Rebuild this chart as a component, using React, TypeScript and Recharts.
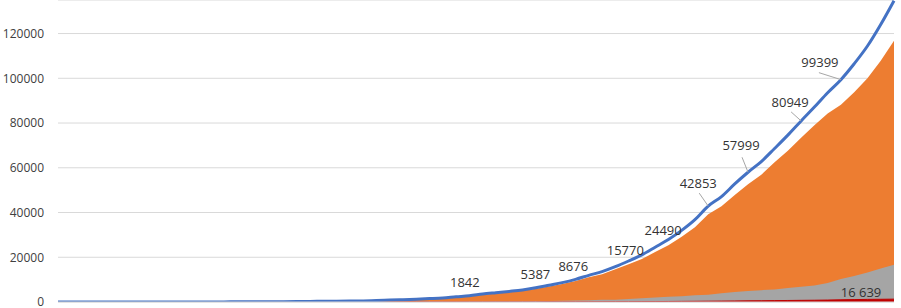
import {
  Area,
  CartesianGrid,
  ComposedChart,
  LabelList,
  Line,
  XAxis,
  YAxis,
} from "recharts";

const dates = [
  "01.03", "02.03", "03.03", "04.03", "05.03", "06.03", "07.03", "08.03", "09.03", "10.03",
  "11.03", "12.03", "13.03", "14.03", "15.03", "16.03", "17.03", "18.03", "19.03", "20.03",
  "21.03", "22.03", "23.03", "24.03", "25.03", "26.03", "27.03", "28.03", "29.03", "30.03",
  "31.03", "01.04", "02.04", "03.04", "04.04", "05.04", "06.04", "07.04", "08.04", "09.04",
  "10.04", "11.04", "12.04", "13.04", "14.04", "15.04", "16.04", "17.04", "18.04", "19.04",
  "20.04", "21.04", "22.04", "23.04", "24.04", "25.04", "26.04", "27.04", "28.04", "29.04",
  "30.04", "01.05", "02.05", "03.05",
];

const total = [
  2, 3, 3, 3, 4, 10, 14, 17, 17, 20,
  28, 34, 45, 59, 63, 93, 114, 147, 199, 253,
  306, 367, 438, 495, 658, 840, 1036, 1264, 1534, 1842,
  2337, 2777, 3548, 4149, 4731, 5387, 6343, 7497, 8676, 10131,
  11917, 13584, 15770, 18328, 21102, 24490, 27938, 32008, 36793, 42853,
  47121, 52763, 57999, 62773, 68622, 74588, 80949, 87147, 93558, 99399,
  106498, 114431, 124054, 134687,
];

const active = [
  0, 1, 1, 1, 2, 8, 12, 15, 15, 18,
  26, 32, 43, 57, 61, 88, 109, 139, 189, 238,
  289, 350, 420, 472, 626, 799, 983, 1211, 1462, 1767,
  2199, 2563, 3283, 3834, 4355, 4987, 5890, 6945, 8033, 9357,
  11028, 12433, 14595, 16825, 19238, 22306, 25402, 29145, 33423, 39201,
  42843, 47887, 52595, 56910, 62439, 67657, 73435, 79007, 84235, 88141,
  93806, 100042, 107819, 116768,
];

const recovered = [
  2, 2, 2, 2, 2, 2, 2, 2, 2, 2,
  2, 2, 2, 2, 2, 5, 5, 8, 9, 14,
  16, 16, 17, 22, 29, 38, 49, 49, 64, 66,
  121, 190, 235, 281, 333, 355, 406, 494, 580, 698,
  795, 1045, 1045, 1355, 1694, 1986, 2304, 2590, 3057, 3291,
  3873, 4420, 4891, 5308, 5568, 6250, 6767, 7346, 8456, 10286,
  11619, 13220, 15013, 16639,
];

const deaths = [
  0, 0, 0, 0, 0, 0, 0, 0, 0, 0,
  0, 0, 0, 0, 0, 0, 0, 0, 1, 1,
  1, 1, 1, 1, 3, 3, 4, 4, 8, 9,
  17, 24, 30, 34, 43, 45, 47, 58, 63, 76,
  94, 106, 130, 148, 170, 198, 232, 273, 313, 361,
  405, 456, 513, 555, 615, 681, 747, 794, 867, 972,
  1073, 1169, 1222, 1280,
];

const yTicks = [0, 20000, 40000, 60000, 80000, 100000, 120000];

// half-day tick marks along the date axis
const xTicks = Array.from({ length: dates.length * 2 - 1 }, (_, i) => i / 2);

// which totals get a data label, and where the label sits relative to its point
const totalLabels: Record<string, { dx: number; dy: number; leader?: [number, number] }> = {
  "30.03": { dx: 22, dy: -16 },
  "05.04": { dx: 13, dy: -16 },
  "08.04": { dx: 11, dy: -17 },
  "12.04": { dx: 10, dy: -17 },
  "15.04": { dx: 8, dy: -17 },
  "19.04": { dx: -10, dy: -23, leader: [-9, -13] },
  "22.04": { dx: -7, dy: -27, leader: [-6, -15] },
  "26.04": { dx: -11, dy: -19, leader: [-10, -9] },
  "29.04": { dx: -21, dy: -18, leader: [-22, -7] },
};

const recoveredLabels: Record<string, { dx: number; dy: number }> = {
  "03.05": { dx: -33, dy: 27 },
};

const data = dates.map((d, i) => ({
  day: i,
  date: d,
  total: total[i],
  active: active[i],
  recovered: recovered[i],
  deaths: deaths[i],
}));

const FONT = "'Open Sans', sans-serif";

const spaced = (v: number) => String(v).replace(/\B(?=(\d{3})+(?!\d))/g, " ");

function makeLabel(
  spots: Record<string, { dx: number; dy: number; leader?: [number, number] }>,
  format: (v: number) => string
) {
  return (props: any) => {
    const { index, value } = props;
    const spot = spots[dates[index]];
    if (!spot) return null;
    const vb = props.viewBox || {};
    const px = props.x ?? vb.x;
    const py = props.y ?? vb.y;
    return (
      <g>
        {spot.leader && (
          <line
            x1={px + spot.leader[0]}
            y1={py + spot.leader[1]}
            x2={px}
            y2={py}
            stroke="#a6a6a6"
            strokeWidth={1}
          />
        )}
        <text
          x={px + spot.dx}
          y={py + spot.dy}
          textAnchor="middle"
          dominantBaseline="central"
          fontFamily={FONT}
          fontSize={13}
          fill="#333"
        >
          {format(value)}
        </text>
      </g>
    );
  };
}

export default function App() {
  return (
    <div
      style={{
        position: "absolute",
        left: 0,
        top: 0,
        width: 901,
        height: 308,
        overflow: "hidden",
        background: "#fff",
      }}
    >
      <ComposedChart
        width={901}
        height={308}
        data={data}
        margin={{ top: 0, right: 7, left: 0, bottom: 0 }}
      >
        <CartesianGrid horizontal vertical={false} stroke="#d9d9d9" />
        <XAxis
          dataKey="day"
          type="number"
          domain={[0, dates.length - 1]}
          ticks={xTicks}
          interval={0}
          tick={false}
          tickLine={{ stroke: "#d9d9d9" }}
          tickSize={4}
          axisLine={{ stroke: "#d9d9d9" }}
          height={6}
        />
        <YAxis
          domain={[0, 135000]}
          allowDataOverflow
          ticks={yTicks}
          interval={0}
          width={58}
          axisLine={false}
          tickLine={false}
          tickSize={0}
          tickMargin={14}
          tick={{ fontSize: 12, fill: "#404040", fontFamily: FONT }}
        />
        <Area
          dataKey="active"
          type="linear"
          stroke="none"
          fill="#ed7d31"
          fillOpacity={1}
          isAnimationActive={false}
        />
        <Area
          dataKey="recovered"
          type="linear"
          stroke="none"
          fill="#a5a5a5"
          fillOpacity={1}
          isAnimationActive={false}
        >
          <LabelList dataKey="recovered" content={makeLabel(recoveredLabels, spaced)} />
        </Area>
        <Area
          dataKey="deaths"
          type="linear"
          stroke="#c00000"
          strokeWidth={1}
          fill="#c00000"
          fillOpacity={1}
          isAnimationActive={false}
        />
        <Line
          dataKey="total"
          type="monotone"
          stroke="#4472c4"
          strokeWidth={3}
          dot={false}
          isAnimationActive={false}
        >
          <LabelList dataKey="total" content={makeLabel(totalLabels, (v) => String(v))} />
        </Line>
      </ComposedChart>
    </div>
  );
}
